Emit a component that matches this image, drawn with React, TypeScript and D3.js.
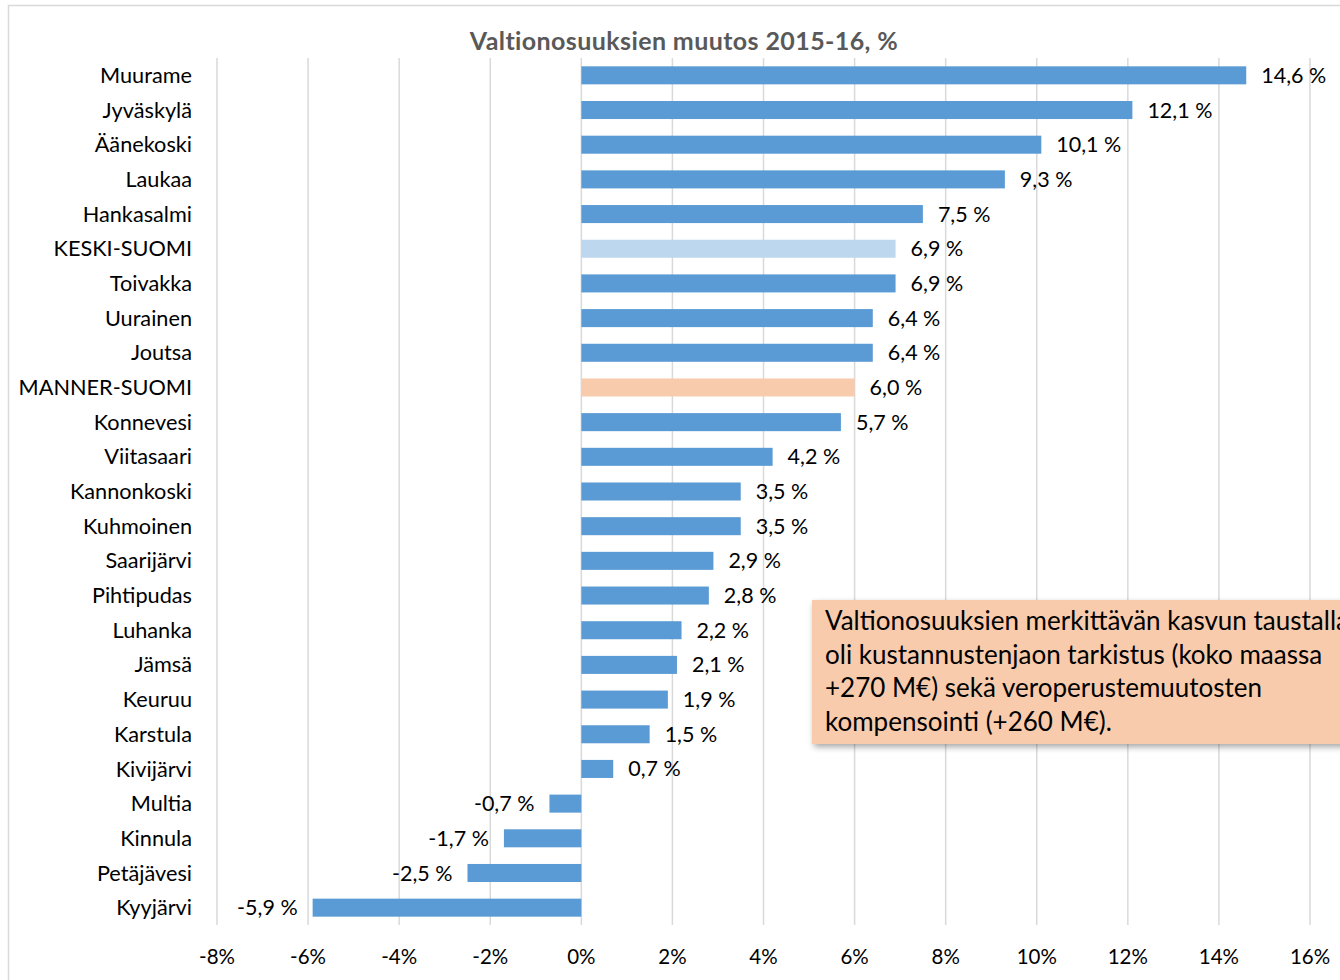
import React from "react";
import * as d3 from "d3";

const categories = [
  "Muurame", "Jyväskylä", "Äänekoski", "Laukaa", "Hankasalmi", "KESKI-SUOMI",
  "Toivakka", "Uurainen", "Joutsa", "MANNER-SUOMI", "Konnevesi", "Viitasaari",
  "Kannonkoski", "Kuhmoinen", "Saarijärvi", "Pihtipudas", "Luhanka", "Jämsä",
  "Keuruu", "Karstula", "Kivijärvi", "Multia", "Kinnula", "Petäjävesi", "Kyyjärvi",
];
const values = [
  14.6, 12.1, 10.1, 9.3, 7.5, 6.9, 6.9, 6.4, 6.4, 6.0, 5.7, 4.2, 3.5, 3.5, 2.9,
  2.8, 2.2, 2.1, 1.9, 1.5, 0.7, -0.7, -1.7, -2.5, -5.9,
];
const xTicks = [-8, -6, -4, -2, 0, 2, 4, 6, 8, 10, 12, 14, 16];
const title = "Valtionosuuksien muutos 2015-16, %";
const noteLines = [
  "Valtionosuuksien merkittävän kasvun taustalla",
  "oli kustannustenjaon tarkistus (koko maassa",
  "+270 M€) sekä veroperustemuutosten",
  "kompensointi (+260 M€).",
];
const highlight: Record<string, string> = {
  "KESKI-SUOMI": "#BDD7EE",
  "MANNER-SUOMI": "#F8CBAD",
};

const W = 1340;
const H = 980;
const FONT = "Lato, 'Open Sans', 'DejaVu Sans', sans-serif";

export default function App() {
  const x = d3.scaleLinear().domain([-8, 16]).range([217, 1310]);
  const y = d3
    .scaleBand<string>()
    .domain(categories)
    .range([58, 925])
    .paddingInner(0.48)
    .paddingOuter(0.24);
  const fmt = (v: number) => v.toFixed(1).replace(".", ",") + " %";
  const bw = y.bandwidth();

  return (
    <svg
      width={W}
      height={H}
      style={{ position: "absolute", left: 0, top: 0, background: "#fff" }}
      fontFamily={FONT}
    >
      <defs>
        <filter id="sh" x="-10%" y="-20%" width="130%" height="150%">
          <feGaussianBlur in="SourceAlpha" stdDeviation="3" />
          <feOffset dx="2" dy="3" result="b" />
          <feComponentTransfer>
            <feFuncA type="linear" slope="0.35" />
          </feComponentTransfer>
          <feMerge>
            <feMergeNode />
            <feMergeNode in="SourceGraphic" />
          </feMerge>
        </filter>
      </defs>
      <rect x={8.5} y={5.5} width={W + 20} height={H + 20} fill="#fff" stroke="#D9D9D9" strokeWidth={1.5} />
      <text x={684} y={50} textAnchor="middle" fontSize={25} fontWeight="bold" fill="#595959" letterSpacing={0.4}>
        {title}
      </text>
      {xTicks.map((t) => (
        <g key={t}>
          <line x1={x(t)} x2={x(t)} y1={58} y2={925} stroke="#D9D9D9" strokeWidth={1.5} />
          <text x={x(t)} y={964} textAnchor="middle" fontSize={20.5} fill="#000">
            {t + "%"}
          </text>
        </g>
      ))}
      {categories.map((c, i) => {
        const v = values[i];
        const y0 = y(c)!;
        const x0 = Math.min(x(0), x(v));
        const w = Math.abs(x(v) - x(0));
        const cy = y0 + bw / 2;
        return (
          <g key={c}>
            <rect x={x0} y={y0} width={w} height={bw} fill={highlight[c] || "#5B9BD5"} />
            <text x={192} y={cy} dy="0.35em" textAnchor="end" fontSize={21.7} fill="#000">
              {c}
            </text>
            <text
              x={v >= 0 ? x(v) + 15 : x(v) - 15}
              y={cy}
              dy="0.35em"
              textAnchor={v >= 0 ? "start" : "end"}
              fontSize={21.5}
              fill="#000"
            >
              {fmt(v)}
            </text>
          </g>
        );
      })}
      <rect x={812} y={600} width={560} height={144} fill="#F8CBAD" filter="url(#sh)" />
      {noteLines.map((l, i) => (
        <text key={i} x={825} y={630 + i * 33.7} fontSize={26} fill="#000">
          {l}
        </text>
      ))}
    </svg>
  );
}
